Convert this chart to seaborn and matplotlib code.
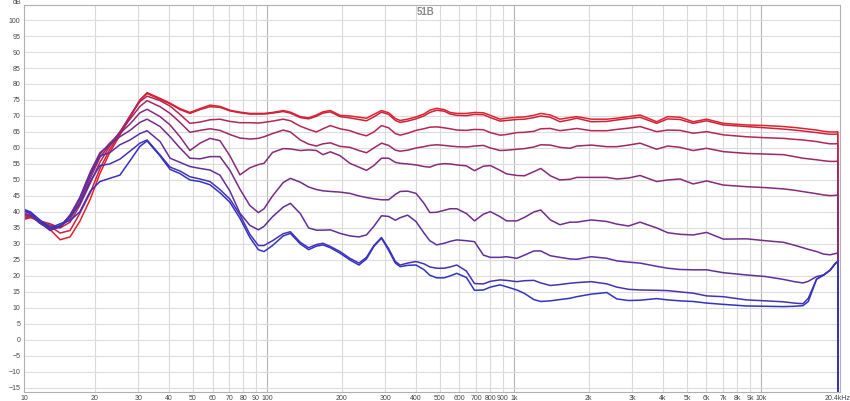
import numpy as np
import pandas as pd
import seaborn as sns
import matplotlib
matplotlib.use("Agg")
import matplotlib.pyplot as plt

# frequency grid (Hz) shared by all curves
freq = [10.35, 11, 12, 13.2, 14.5, 15.9, 17.4, 19.2, 21, 23,
        25.3, 27.8, 30.5, 32.6, 36.8, 40.4, 44.3, 48.6, 53.4, 58.6,
        64.3, 70.6, 77.5, 85, 92, 97, 105, 116, 124, 136,
        147, 158, 168, 180, 197, 216, 235, 252, 270, 290,
        310, 330, 345, 370, 400, 430, 455, 485, 520, 550,
        585, 640, 690, 750, 800, 876, 930, 1024, 1100, 1200,
        1280, 1400, 1530, 1680, 1790, 2050, 2370, 2600, 2900, 3230,
        3770, 4180, 4690, 5300, 6010, 7020, 8700, 10400, 12300, 13600,
        14750, 15500, 16750, 17900, 19000, 20000, 20400]

# SPL (dB) of each measurement, top (red) to bottom (blue)
spl_1 = [37.7, 38.2, 37.2, 34.5, 31.3, 32.2, 37, 44, 52, 58.5,
         64, 69.5, 75, 77.3, 75.5, 74, 72.3, 71.1, 72.3, 73.4,
         73, 71.8, 71.2, 70.8, 70.8, 70.8, 71.1, 71.7, 71.2, 69.8,
         69.4, 70.3, 71.3, 71.7, 70.2, 70, 69.6, 69.3, 70.5, 71.7,
         71, 69.2, 68.6, 69, 69.7, 70.6, 71.8, 72.4, 72, 71.1,
         70.8, 70.8, 71.1, 71, 70.2, 69, 69.3, 69.6, 69.7, 70.2,
         70.8, 70.3, 69, 69.5, 69.8, 69, 69, 69.3, 69.8, 70.3,
         68.2, 69.8, 69.6, 68.2, 69, 67.7, 67.2, 67, 66.7, 66.4,
         66.1, 65.9, 65.6, 65.2, 65, 65, 65.1]
spl_2 = [38, 38.5, 37, 35.5, 33.4, 34.2, 39.5, 46, 53.5, 59.5,
         64.5, 70, 75, 77, 75.2, 73.8, 72, 70.8, 72, 72.9,
         72.7, 71.6, 71, 70.6, 70.6, 70.6, 70.9, 71.4, 70.9, 69.5,
         69.1, 69.9, 70.9, 71.3, 69.8, 69.4, 68.9, 68.5, 69.7, 71.2,
         70.5, 68.6, 68, 68.4, 69.1, 70, 71.1, 71.8, 71.5, 70.6,
         70.2, 70.1, 70.5, 70.4, 69.5, 68.4, 68.6, 68.9, 69, 69.5,
         70, 69.6, 68.2, 68.8, 69.3, 68.2, 68.3, 68.75, 69.2, 69.6,
         67.7, 69.1, 68.9, 67.7, 68.5, 67.2, 66.7, 66.3, 65.9, 65.6,
         65.3, 65.1, 64.8, 64.5, 64.3, 64.3, 64.4]
spl_3 = [38.3, 38.6, 37.2, 36.3, 35, 36.8, 42, 49, 55.5, 60.5,
         65, 70, 74.5, 76.2, 74.8, 73.1, 70.5, 67.7, 68.1, 68.8,
         69, 68.3, 67.9, 67.9, 67.8, 68, 68.4, 69, 68.5, 66.8,
         65.8, 65, 66, 67, 66, 65.4, 64.4, 63.8, 65, 67,
         66.3, 64.5, 64, 64.6, 65.5, 66, 66.5, 66.6, 66.3, 66,
         65.6, 65.5, 65.8, 65.7, 64.8, 64, 64.2, 64.8, 64.9, 65.2,
         66, 66.1, 65.4, 65.8, 66.1, 65.4, 65.4, 65.8, 66.2, 66.7,
         65.1, 65.6, 65.5, 64.6, 65.1, 64.1, 63.5, 63.2, 63, 62.7,
         62.5, 62.3, 62, 61.6, 61.3, 61.3, 61.4]
spl_4 = [38.8, 38.7, 37, 35.8, 35.4, 37.8, 43, 50.5, 57, 61,
         65, 69, 73, 74.8, 72.9, 70.8, 68, 64.9, 65.5, 66,
         65.5, 64.2, 63.1, 62.8, 63, 63.5, 64.5, 65.6, 65, 62.5,
         61.2, 60.6, 61.3, 61.6, 60.5, 60.2, 59.2, 58.5, 60, 61.5,
         60.8, 59.3, 59, 59.3, 60, 60.4, 60.8, 61, 60.8, 60.6,
         60.4, 60.3, 60.6, 60.8, 60, 59.2, 59.3, 59.6, 59.8, 60.3,
         61, 60.9, 60.2, 59.9, 60.6, 60.9, 60.4, 60.4, 60.9, 61.5,
         59.6, 60.6, 60.2, 59.2, 59.9, 58.85, 58.3, 58.1, 57.9, 57.3,
         56.8, 56.6, 56.3, 56, 55.8, 55.8, 55.9]
spl_5 = [39.2, 38.8, 36.5, 35, 35.3, 38.5, 44, 52, 58, 61.5,
         64.5, 67.5, 71, 72.1, 69.8, 67.2, 63.5, 59.2, 61.5, 63,
         62.3, 57.5, 51.6, 53.8, 54.8, 55.2, 58.6, 59.8, 59.7, 59.2,
         59.4, 59.2, 57.9, 58.8, 57.6, 55.2, 54, 53, 54.5, 56.8,
         56.8, 55.5, 55.2, 55, 54.7, 54.2, 54, 54.8, 55.1, 55,
         54.7, 54.4, 52.9, 54.3, 54.5, 53, 51.9, 51.4, 51.3, 52.6,
         53.6, 51.3, 50, 50.2, 50.8, 50.8, 50.8, 50.3, 50.6, 51.4,
         49.5, 50, 50.3, 48.75, 49.7, 48.4, 47.9, 47.6, 47.2, 46.8,
         46.35, 46.1, 45.7, 45.3, 45.1, 45.2, 45.3]
spl_6 = [39.6, 39, 36.5, 34.8, 35.2, 39, 44.5, 52.5, 58.5, 61,
         63.5, 65.5, 68, 69, 66.7, 63.5, 60, 56.8, 56.6, 57.3,
         57.3, 53, 47.1, 42, 39.8, 41, 45, 49.2, 50.5, 49.3,
         47.8, 47, 46.6, 46.4, 46.2, 45.8, 45, 44.5, 44.1, 43.8,
         43.8, 45.5, 46.4, 46.5, 45.8, 42.8, 39.8, 39.9, 40.5, 41,
         41, 39.5, 37.2, 39.3, 40.1, 38.5, 37.2, 37.2, 38.3, 40,
         40.6, 37.5, 36, 36.8, 36.8, 37.5, 37, 36.2, 35.6, 36.8,
         35, 33.5, 33, 32.8, 33.6, 31.5, 31.6, 31, 30.5, 29.6,
         28.8, 28.3, 27.6, 26.8, 26.6, 27, 27.1]
spl_7 = [40.2, 39.5, 36.5, 34.3, 35.3, 39, 44, 51.5, 57.5, 58.5,
         61, 62.5, 64.5, 65.4, 62, 56.8, 55.5, 54.2, 53.6, 53.1,
         51.5, 46.5, 39.6, 35.8, 34.4, 35.5, 38.5, 41.5, 42.7, 39.5,
         35, 34.3, 34.3, 34.4, 33.3, 32.5, 32.2, 32.8, 35.5, 38.8,
         38.6, 37.4, 38.2, 39, 37, 33.5, 31, 29.7, 30.2, 30.8,
         31.25, 31, 30.7, 26.5, 25.8, 25.8, 26, 25.5, 26.5, 27.8,
         27.8, 26.3, 25.8, 25.3, 25.2, 26, 25.5, 24.7, 24.3, 24,
         23, 22.4, 22, 21.9, 21.9, 21, 20.3, 19.8, 18.9, 18.2,
         17.8, 18.3, 19.8, 20.3, 21.8, 24, 24.5]
spl_8 = [40.5, 39.6, 37, 34.2, 35.8, 38.5, 42.5, 49.5, 54.5, 55,
         56.5, 59, 61.5, 62.5, 57.8, 54, 52.8, 51, 50.3, 49.5,
         47, 44, 39.1, 33, 29.5, 29.5, 31, 33.2, 33.8, 30.5,
         28.8, 29.8, 30.2, 29.2, 27.6, 25.5, 24, 25.8, 29.5, 32,
         28.5, 24.5, 23.4, 24, 24.5, 23.8, 22.8, 22.4, 22.4, 22.8,
         23.4, 21.5, 17.6, 17.5, 18.3, 18.75, 18.6, 18.2, 18.5, 18.6,
         17.8, 17, 17.3, 17.7, 17.9, 18.2, 17.5, 16.5, 15.8, 15.6,
         15.5, 15.4, 15, 14.6, 13.75, 13.5, 12.5, 12.2, 11.9, 11.5,
         11.3, 13, 19, 20.3, 21.8, 24, 24.5]
spl_9 = [40.8, 40, 37.5, 35, 36.3, 37.3, 40, 46.5, 49.5, 50.5,
         51.5, 56, 60.5, 62.2, 57.5, 53.3, 52, 50, 49.5, 48.5,
         46, 43, 38, 32, 28.2, 27.6, 29.5, 32.5, 33.3, 30,
         28.2, 29.3, 29.7, 28.8, 27.1, 25, 23.4, 25.3, 29.2, 31.8,
         28, 24, 22.9, 23.3, 23.4, 22, 20.2, 19.4, 19.4, 20,
         20.8, 19.5, 15.5, 15.6, 16.5, 17.2, 16.6, 15.6, 14.5, 12.6,
         12, 12.2, 12.6, 13, 13.5, 14.3, 14.8, 12.8, 12.3, 12.4,
         12.9, 12.5, 12.2, 12, 11.5, 11.1, 10.6, 10.5, 10.4, 10.5,
         10.7, 12, 19, 20.3, 21.8, 24, 24.5]

curves = [spl_1, spl_2, spl_3, spl_4, spl_5, spl_6, spl_7, spl_8, spl_9]

tick_freqs = [10.35, 20, 30, 40, 50, 60, 70, 80, 90, 100,
              200, 300, 400, 500, 600, 700, 800, 900, 1000,
              2000, 3000, 4000, 5000, 6000, 7000, 8000, 9000, 10000, 20400]
tick_labels = ["10", "20", "30", "40", "50", "60", "70", "80", "90", "100",
               "200", "300", "400", "500", "600", "700", "800", "900", "1k",
               "2k", "3k", "4k", "5k", "6k", "7k", "8k", "9k", "10k", "20.4kHz"]

# long table; each trace falls off the chart at both ends like REW draws it
rows = []
for i, vals in enumerate(curves):
    f = [freq[0]] + freq + [freq[-1]]
    v = [-40] + vals + [-40]
    for a, b in zip(f, v):
        rows.append((i, a, b))
df = pd.DataFrame(rows, columns=["curve", "freq", "spl"])

sns.set_theme(style="white")
plt.rcParams["font.family"] = ["Liberation Sans", "DejaVu Sans"]

fig = plt.figure(figsize=(8.5, 4.01), dpi=100)
ax = fig.add_axes([24 / 850, 9 / 401, 816 / 850, 387 / 401])

pal = sns.blend_palette(["#e3202b", "#3232c6"], len(curves))
sns.lineplot(data=df, x="freq", y="spl", hue="curve", palette=pal,
             sort=False, estimator=None, legend=False, linewidth=1.1, ax=ax)

ax.set_xscale("log")
ax.set_xlim(10.35, 20830)
ax.set_ylim(-16.3, 104.7)

# grid lines
for t in tick_freqs[1:-1]:
    c = "#b4b4b4" if t in (100, 1000, 10000) else "#d9d9d9"
    ax.axvline(t, color=c, lw=0.8, zorder=0)
for y in range(-15, 101, 5):
    ax.axhline(y, color="#dcdcdc", lw=0.8, zorder=0)

ax.set_xticks(tick_freqs)
ax.set_xticklabels(tick_labels)
ax.xaxis.set_minor_locator(matplotlib.ticker.NullLocator())
ax.set_yticks(range(-15, 101, 5))
ax.tick_params(axis="both", length=0, labelsize=5, colors="#444444")
ax.tick_params(axis="x", pad=2)
ax.tick_params(axis="y", pad=2.5)
ax.set_xlabel("")
ax.set_ylabel("")

for s in ax.spines.values():
    s.set_color("#b0b0b0")
    s.set_linewidth(0.8)

fig.text(17 / 850, 1 - 2 / 401, "dB", fontsize=5, color="#444444", ha="center", va="center")
fig.text(426 / 850, 1 - 12 / 401, "51B", fontsize=7, fontweight="bold", color="#8a8a8a",
         ha="center", va="center")

fig.savefig("out.png", dpi=100)
